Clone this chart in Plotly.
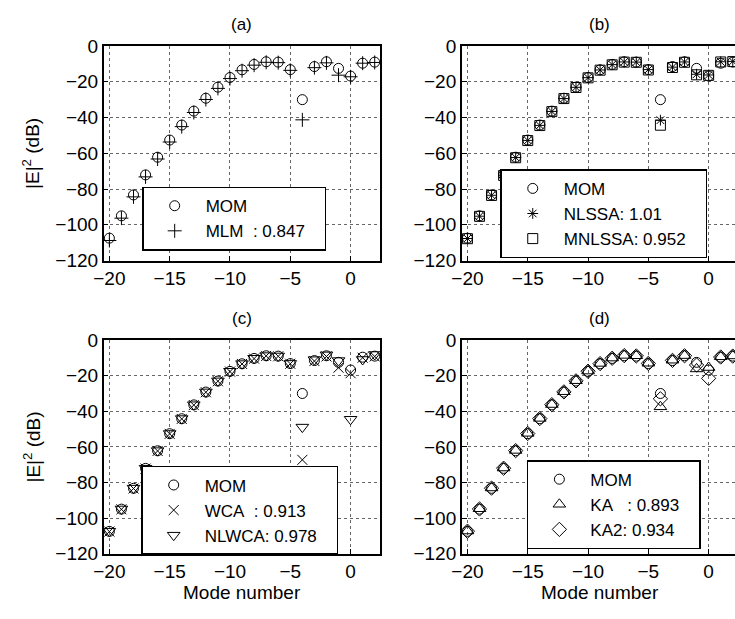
import plotly.graph_objects as go

# Mode numbers and scattered power |E|^2 (dB) for each method
modes = list(range(-20, 3))

mom = [-107.5, -95.0, -83.3, -72.1, -62.2, -52.6, -44.2, -36.4, -29.2, -23.0, -17.6, -13.3,
       -10.3, -8.8, -9.0, -13.2, -30.0, -11.5, -8.8, -12.5, -16.8, -9.6, -9.0]
mlm = [-108.8, -96.3, -84.4, -73.2, -63.2, -53.7, -45.1, -37.2, -29.9, -23.7, -18.2, -13.8,
       -10.7, -9.1, -9.3, -13.6, -41.3, -12.1, -9.4, -16.3, -17.2, -9.6, -9.2]
nlssa = [-107.7, -95.2, -83.5, -72.3, -62.4, -52.8, -44.4, -36.6, -29.4, -23.1, -17.7, -13.4,
         -10.4, -8.9, -9.0, -13.2, -41.5, -11.8, -8.9, -15.8, -16.2, -8.8, -8.6]
mnlssa = [-107.8, -95.3, -83.6, -72.4, -62.5, -52.9, -44.5, -36.7, -29.4, -23.2, -17.8, -13.5,
          -10.5, -9.0, -9.1, -13.4, -44.3, -12.0, -9.1, -16.1, -16.4, -8.9, -8.7]
wca = [-107.6, -95.1, -83.4, -72.2, -62.3, -52.7, -44.3, -36.5, -29.3, -23.1, -17.7, -13.4,
       -10.4, -8.9, -9.1, -13.3, -67.3, -11.8, -9.2, -15.5, -18.6, -9.9, -9.2]
nlwca = [-107.4, -94.9, -83.2, -72.0, -62.1, -52.5, -44.1, -36.3, -29.1, -22.9, -17.5, -13.2,
         -10.2, -8.7, -8.9, -13.1, -48.9, -11.0, -8.3, -11.5, -44.5, -10.9, -8.1]
ka = [-107.3, -94.8, -83.1, -71.9, -62.0, -52.4, -44.0, -36.2, -29.0, -22.8, -17.4, -13.1,
      -10.1, -8.6, -8.8, -13.0, -37.5, -11.3, -8.7, -16.2, -15.4, -9.4, -8.9]
ka2 = [-107.4, -94.9, -83.2, -72.0, -62.1, -52.5, -44.1, -36.3, -29.1, -22.9, -17.5, -13.2,
       -10.2, -8.7, -8.9, -13.1, -33.0, -11.4, -8.8, -14.0, -21.5, -9.5, -9.0]

panels = [
    # (label, traces [(name, values, symbol)])
    ("(a)", [("MOM", mom, "circle-open"),
             ("MLM\u00a0\u00a0: 0.847", mlm, "cross-thin-open")]),
    ("(b)", [("MOM", mom, "circle-open"),
             ("NLSSA: 1.01", nlssa, "asterisk-open"),
             ("MNLSSA: 0.952", mnlssa, "square-open")]),
    ("(c)", [("MOM", mom, "circle-open"),
             ("WCA\u00a0\u00a0: 0.913", wca, "x-thin-open"),
             ("NLWCA: 0.978", nlwca, "triangle-down-open")]),
    ("(d)", [("MOM", mom, "circle-open"),
             ("KA\u00a0\u00a0\u00a0: 0.893", ka, "triangle-up-open"),
             ("KA2: 0.934", ka2, "diamond-open")]),
]

W, H = 735, 619
FONT = "Liberation Sans, Arial, sans-serif"
PAD = "\u00a0\u00a0\u00a0"  # right-hand padding inside the legend boxes

# pixel geometry of the four axes boxes (left, right, top, bottom)
boxes = [
    (95, 375, 37.3, 259.3),
    (458, 735, 37.3, 259.3),
    (95, 375, 341.7, 562.7),
    (458, 735, 341.7, 562.7),
]
px_per_unit = 280 / 22.9
# legend anchor: left edge and vertical centre (px)
legend_pos = [(134, 216), (497, 211), (133, 518), (524, 512)]

fig = go.Figure()
annotations = []

for i, ((label, traces), (l, r, t, b)) in enumerate(zip(panels, boxes)):
    n = i + 1
    xa = "x" if n == 1 else f"x{n}"
    ya = "y" if n == 1 else f"y{n}"
    lg = "legend" if n == 1 else f"legend{n}"
    for name, vals, sym in traces:
        msize = 10 if sym != "asterisk-open" else 9
        if sym in ("triangle-down-open", "triangle-up-open", "diamond-open"):
            msize = 11
        fig.add_trace(go.Scatter(
            x=modes, y=vals, mode="markers", name=name + PAD,
            xaxis=xa, yaxis=ya, legend=lg, cliponaxis=True,
            marker=dict(symbol=sym, size=msize, color="black",
                        line=dict(color="black", width=1)),
        ))

    x0 = -20.47
    x1 = x0 + (r - l) / px_per_unit
    axis_common = dict(
        showline=True, linecolor="black", linewidth=1.5,
        ticks="inside", ticklen=5, tickcolor="black",
        showgrid=True, gridcolor="#666666", griddash="dot", gridwidth=1,
        zeroline=False,
        tickfont=dict(family=FONT, size=19, color="black"),
    )
    fig.layout[f"xaxis{n if n > 1 else ''}"] = dict(
        axis_common, domain=[l / W, r / W], range=[x0, x1],
        tickvals=[-20, -15, -10, -5, 0], ticktext=["\u221220", "\u221215", "\u221210", "\u22125", "0"],
        anchor=ya, mirror=True,
    )
    fig.layout[f"yaxis{n if n > 1 else ''}"] = dict(
        axis_common, domain=[1 - b / H, 1 - t / H], range=[-120, 0],
        tickvals=[0, -20, -40, -60, -80, -100, -120],
        ticktext=["0", "\u221220", "\u221240", "\u221260", "\u221280", "\u2212100", "\u2212120"],
        anchor=xa, mirror=(n % 2 == 1),
    )

    lx, ly = legend_pos[i]
    fig.layout[lg] = dict(
        x=lx / W, y=1 - ly / H, xanchor="left", yanchor="middle",
        bgcolor="white", bordercolor="black", borderwidth=1.5,
        font=dict(family=FONT, size=17, color="black"),
        itemwidth=52, tracegroupgap=0,
    )

    cx = (l + 140) / W
    annotations.append(dict(
        text=label, x=cx, y=1 - (t - 22) / H, xref="paper", yref="paper",
        showarrow=False, font=dict(family=FONT, size=17, color="black"),
        xanchor="center", yanchor="middle",
    ))
    if n % 2 == 1:
        annotations.append(dict(
            text="|E|<sup>2</sup> (dB)", x=22 / W, y=1 - ((t + b) / 2) / H,
            xref="paper", yref="paper", showarrow=False, textangle=-90,
            font=dict(family=FONT, size=19, color="black"),
            xanchor="center", yanchor="middle",
        ))
    if n > 2:
        annotations.append(dict(
            text="Mode number", x=cx, y=1 - 603 / H,
            xref="paper", yref="paper", showarrow=False,
            font=dict(family=FONT, size=19, color="black"),
            xanchor="center", yanchor="middle",
        ))

fig.update_layout(
    width=W, height=H,
    margin=dict(l=0, r=0, t=0, b=0),
    paper_bgcolor="white", plot_bgcolor="white",
    annotations=annotations,
    showlegend=True,
)

fig.write_html("out.html")
